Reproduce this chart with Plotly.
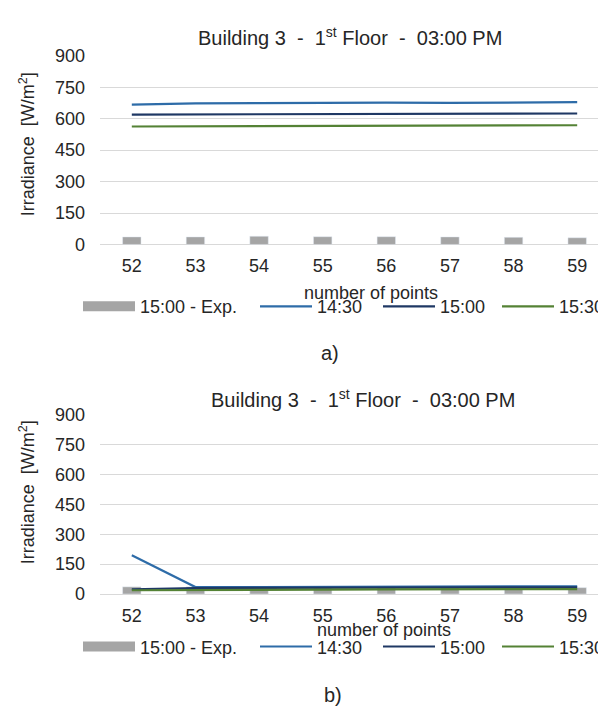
import plotly.graph_objects as go

categories = ["52", "53", "54", "55", "56", "57", "58", "59"]

# Chart a)
exp_a = [36, 36, 39, 37, 37, 36, 34, 32]
s1430_a = [667, 673, 675, 677, 677, 676, 677, 679]
s1500_a = [620, 621, 622, 623, 623, 622, 623, 625]
s1530_a = [563, 564, 565, 566, 566, 566, 567, 569]

# Chart b)
exp_b = [36, 36, 39, 37, 37, 36, 34, 32]
s1430_b = [195, 35, 35, 36, 36, 37, 37, 39]
s1500_b = [24, 30, 31, 31, 32, 32, 33, 34]
s1530_b = [19, 21, 22, 22, 23, 23, 24, 25]

y_ticks = [0, 150, 300, 450, 600, 750, 900]
series_names = ["15:00 - Exp.", "14:30", "15:00", "15:30"]

W, H = 606, 711
FONT = "Liberation Sans, Arial, sans-serif"
TXT = "#262626"
GRID = "#D9D9D9"
C_EXP = "#A5A5A5"
C_1430 = "#2E6CA8"
C_1500 = "#1F3864"
C_1530 = "#548235"


def px(x):
    return x / W


def py(y):
    return 1 - y / H


fig = go.Figure()

panels = [
    dict(exp=exp_a, l1=s1430_a, l2=s1500_a, l3=s1530_a, xa="x", ya="y", lg=1, legy=297),
    dict(exp=exp_b, l1=s1430_b, l2=s1500_b, l3=s1530_b, xa="x2", ya="y2", lg=5, legy=647),
]

# left x position (px) of each legend entry
legend_x = [70, 247, 370, 489]

legend_common = dict(orientation="h", yanchor="middle", xanchor="left",
                     font=dict(size=18, color=TXT, family=FONT), bgcolor="rgba(0,0,0,0)",
                     itemwidth=52, tracegroupgap=0, itemclick=False, itemdoubleclick=False)
legends = {}


def lname(i):
    return "legend" if i == 1 else "legend%d" % i


for p in panels:
    fig.add_trace(go.Bar(x=categories, y=p["exp"], marker_color=C_EXP, width=0.29,
                         showlegend=False, xaxis=p["xa"], yaxis=p["ya"], name=series_names[0]))
    items = [(None, C_EXP, series_names[0], 10),
             (p["l1"], C_1430, series_names[1], 2.2),
             (p["l2"], C_1500, series_names[2], 2.2),
             (p["l3"], C_1530, series_names[3], 2.2)]
    for k, (vals, col, nm, lw) in enumerate(items):
        li = p["lg"] + k
        legends[lname(li)] = dict(x=px(legend_x[k]), y=py(p["legy"]), **legend_common)
        if vals is None:
            # legend proxy for the bar series
            fig.add_trace(go.Scatter(x=[None], y=[None], mode="lines", name=nm,
                                     line=dict(color=col, width=lw), xaxis=p["xa"], yaxis=p["ya"],
                                     legend=lname(li)))
        else:
            fig.add_trace(go.Scatter(x=categories, y=vals, mode="lines", name=nm,
                                     line=dict(color=col, width=lw), xaxis=p["xa"], yaxis=p["ya"],
                                     legend=lname(li)))

xdom = [px(92), px(601)]
common_x = dict(type="category", range=[-0.5, 7.5], showgrid=False, showline=False,
                zeroline=False, ticks="", tickfont=dict(size=18, color=TXT, family=FONT),
                ticklabelstandoff=9)
common_y = dict(range=[0, 900], tickvals=y_ticks, showgrid=True, gridcolor=GRID, gridwidth=1.3,
                zeroline=True, zerolinecolor=GRID, zerolinewidth=1.3, showline=False, ticks="",
                tickfont=dict(size=18, color=TXT, family=FONT), ticklabelstandoff=14)

fig.update_layout(
    width=W, height=H, margin=dict(l=0, r=0, t=0, b=0),
    paper_bgcolor="white", plot_bgcolor="white",
    font=dict(family=FONT, color=TXT),
    xaxis=dict(domain=xdom, anchor="y", **common_x),
    yaxis=dict(domain=[py(233), py(39)], anchor="x", **common_y),
    xaxis2=dict(domain=xdom, anchor="y2", **common_x),
    yaxis2=dict(domain=[py(592.7), py(408.3)], anchor="x2", **common_y),
    barmode="overlay",
    **legends,
)

title_txt = "Building 3&nbsp; -&nbsp; 1<sup>st</sup> Floor&nbsp; -&nbsp; 03:00 PM"
ytitle = "Irradiance&nbsp; [W/m<sup>2</sup>]"
ann = []
for (tx, ty, yt_y, xt_x, xt_y, cap, cap_x, cap_y) in [
    (342, 19, 130, 363, 283, "a)", 322, 345),
    (355, 392, 488, 376, 630, "b)", 325, 697),
]:
    ann.append(dict(text=title_txt, x=px(tx), y=py(ty), xref="paper", yref="paper",
                    showarrow=False, xanchor="center", yanchor="middle",
                    font=dict(size=20, color=TXT, family=FONT)))
    ann.append(dict(text=ytitle, x=px(19), y=py(yt_y), xref="paper", yref="paper",
                    showarrow=False, xanchor="center", yanchor="middle", textangle=-90,
                    font=dict(size=18, color=TXT, family=FONT)))
    ann.append(dict(text="number of points", x=px(xt_x), y=py(xt_y), xref="paper", yref="paper",
                    showarrow=False, xanchor="center", yanchor="middle",
                    font=dict(size=18, color=TXT, family=FONT)))
    ann.append(dict(text=cap, x=px(cap_x), y=py(cap_y), xref="paper", yref="paper",
                    showarrow=False, xanchor="center", yanchor="middle",
                    font=dict(size=20, color=TXT, family=FONT)))
fig.update_layout(annotations=ann)

fig.write_html("out.html")
